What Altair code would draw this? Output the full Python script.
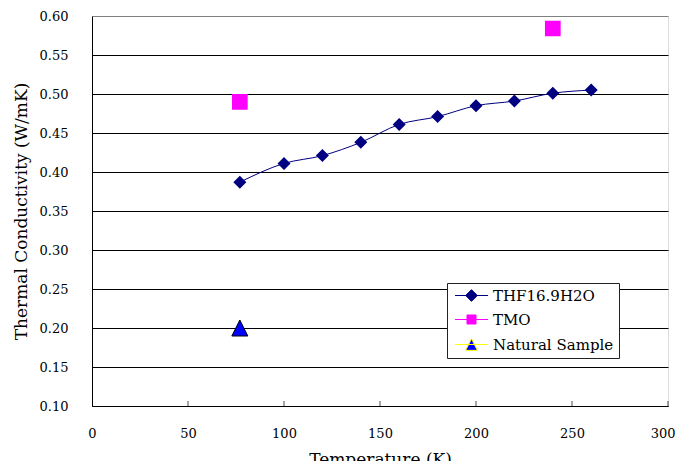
import altair as alt
import pandas as pd

# ---- data ----
series_names = ["THF16.9H2O", "TMO", "Natural Sample"]

thf_temp = [77, 100, 120, 140, 160, 180, 200, 220, 240, 260]
thf_k = [0.387, 0.411, 0.421, 0.438, 0.461, 0.471, 0.485, 0.491, 0.501, 0.505]

tmo_temp = [77, 240]
tmo_k = [0.490, 0.584]

nat_temp = [77]
nat_k = [0.200]

x_ticks = [50, 100, 150, 200, 250, 300]
y_ticks = [0.10, 0.15, 0.20, 0.25, 0.30, 0.35, 0.40, 0.45, 0.50, 0.55, 0.60]

# ---- styles ----
fill_colors = ["#000080", "#FF00FF", "#0000FF"]
line_colors = ["#000080", "#FF00FF", "#FFFF00"]
diamond = "M-2.82,0H2.82M0,-1L1,0L0,1L-1,0Z"
square = "M-2.82,0H2.82M-0.77,-0.77H0.77V0.77H-0.77Z"
triangle = "M-2.82,0H2.82M0,-1L1,1H-1Z"
triangle_plain = "M0,-1L1,1H-1Z"
marker_sizes = [169, 416, 256]

thf = pd.DataFrame({"T": thf_temp, "k": thf_k, "series": series_names[0]})
tmo = pd.DataFrame({"T": tmo_temp, "k": tmo_k, "series": series_names[1]})
nat = pd.DataFrame({"T": nat_temp, "k": nat_k, "series": series_names[2]})
ticks = pd.DataFrame({"T": x_ticks})

FONT = "DejaVu Serif"

x_axis = alt.Axis(title="Temperature (K)", values=list(range(0, 301, 50)),
                  format="d", grid=False, ticks=False, tickSize=0, labelFlush=False,
                  labelAlign={"condition": {"test": "datum.value >= 300", "value": "right"},
                              "value": "center"},
                  labelOffset={"condition": {"test": "datum.value >= 300", "value": 7},
                               "value": 0},
                  labelPadding=21, titlePadding=11,
                  domainColor="black", labelFont=FONT, labelFontSize=13,
                  labelColor="black", titleFont=FONT, titleFontSize=17,
                  titleFontWeight="normal", titleColor="black")
y_axis = alt.Axis(title="Thermal Conductivity (W/mK)", values=y_ticks,
                  format=".2f", grid=True,
                  gridColor={"condition": {"test": "datum.value >= 0.599", "value": "#808080"},
                             "value": "black"},
                  gridWidth=1,
                  labelOverlap=False, labelFlush=False,
                  ticks=False, tickSize=0, labelPadding=24, titlePadding=9,
                  domainColor="black", labelFont=FONT, labelFontSize=13,
                  labelColor="black", titleFont=FONT, titleFontSize=17,
                  titleFontWeight="normal", titleColor="black")

x_enc = alt.X("T:Q", scale=alt.Scale(domain=[0, 300], nice=False), axis=x_axis)
y_enc = alt.Y("k:Q", scale=alt.Scale(domain=[0.10, 0.60], nice=False, zero=False), axis=y_axis)

legend = alt.Legend(title=None, orient="none", legendX=355, legendY=267,
                    fillColor="white", strokeColor="#222222",
                    padding=5, rowPadding=8, symbolSize=137,
                    symbolOffset=12, labelOffset=14,
                    labelFont=FONT, labelFontSize=15, labelColor="black",
                    symbolStrokeWidth=1)

line = alt.Chart(thf).mark_line(color="#000080", strokeWidth=1, interpolate="monotone").encode(
    x=x_enc, y=y_enc)


def series_points(df, size):
    return alt.Chart(df).mark_point(filled=True, opacity=1, strokeWidth=1, size=size).encode(
        x=x_enc, y=y_enc,
        color=alt.Color("series:N", scale=alt.Scale(domain=series_names, range=fill_colors),
                        sort=series_names, legend=legend),
        shape=alt.Shape("series:N", scale=alt.Scale(domain=series_names,
                                                      range=[diamond, square, triangle]),
                        sort=series_names),
        stroke=alt.Stroke("series:N", scale=alt.Scale(domain=series_names, range=line_colors),
                          sort=series_names),
        strokeOpacity=alt.value(0),
    )


p_thf = series_points(thf, marker_sizes[0])
p_tmo = series_points(tmo, marker_sizes[1])
p_nat = series_points(nat, marker_sizes[2])

tri_outline = alt.Chart(nat).mark_point(shape=triangle_plain, filled=False, size=marker_sizes[2],
                                         stroke="black", strokeWidth=1, opacity=1).encode(
    x=x_enc, y=y_enc)

tick_marks = alt.Chart(ticks).transform_calculate(k="0.1").mark_tick(
    orient="vertical", size=5, thickness=1, yOffset=-2.5, color="black").encode(
    x=x_enc, y=y_enc)

chart = alt.layer(line, p_thf, p_tmo, p_nat, tri_outline, tick_marks).properties(
    width=576, height=390,
    padding={"left": 4, "top": 2, "right": 0, "bottom": 5},
).configure_view(stroke="#808080", strokeWidth=1).configure(background="white")

chart.save("out.html", embed_options={"renderer": "svg", "actions": False})
